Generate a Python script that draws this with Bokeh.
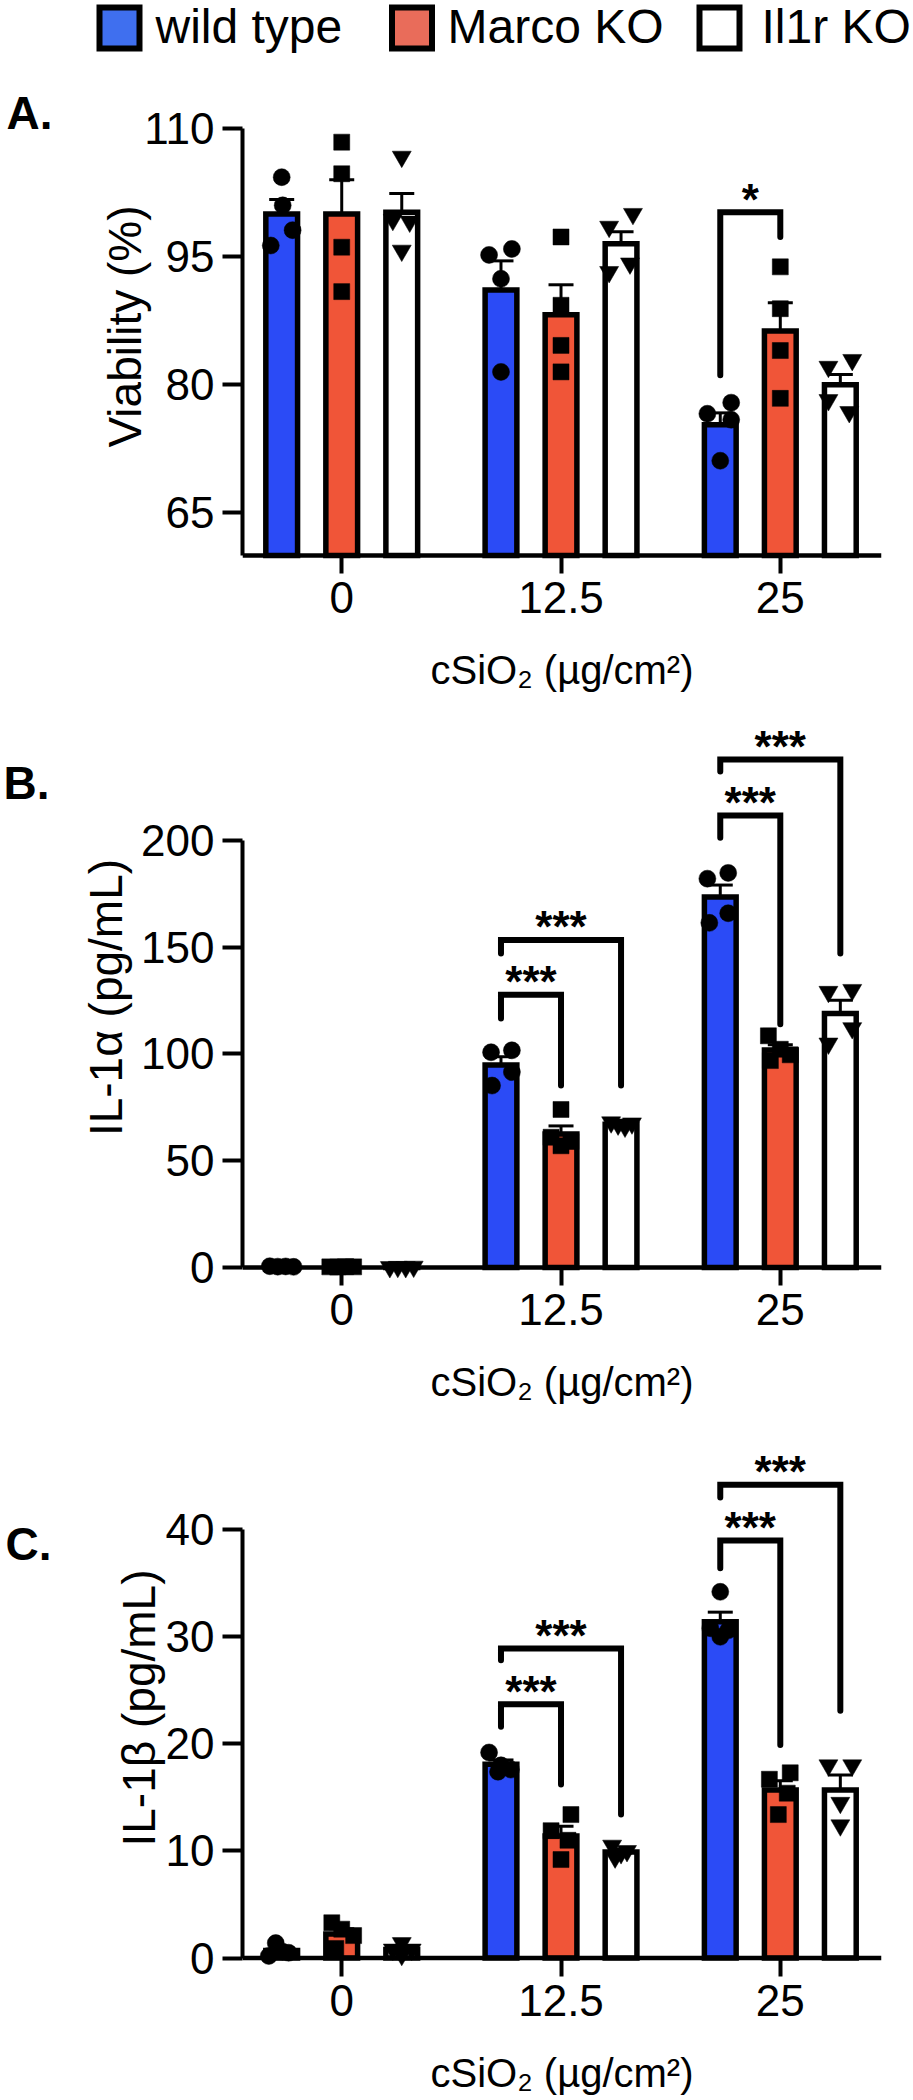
import numpy as np
from bokeh.plotting import figure
from bokeh.layouts import column
from bokeh.models import (ColumnDataSource, Range1d, FixedTicker, Whisker, TeeHead, Span,
                          LinearAxis)
from bokeh.core.properties import value
from bokeh.embed import file_html
from bokeh.resources import INLINE

# ---------------- data ----------------
doses = ["0", "12.5", "25"]
series = ["wild type", "Marco KO", "Il1r KO"]
bar_colors = ["#2B4BF6", "#F05538", "#FFFFFF"]
legend_colors = ["#3F6FEF", "#E96C5A", "#FFFFFF"]
markers = ["circle", "square", "inverted_triangle"]
x_title = "cSiO\u2082 (\u00b5g/cm\u00b2)"

# Panel A: viability (%)
via_mean = [[100.0, 91.1, 75.3], [100.0, 88.2, 86.3], [100.2, 96.5, 80.0]]
via_sem = [[1.7, 3.4, 1.4], [4.0, 3.5, 3.3], [2.2, 1.4, 1.2]]
via_pts = [
    [[104.3, 101.0, 98.1, 96.3], [95.2, 95.9, 92.4, 81.5], [76.6, 77.9, 75.9, 71.1]],
    [[108.4, 104.7, 96.1, 90.9], [97.3, 89.3, 84.6, 81.5], [93.8, 88.9, 84.0, 78.4]],
    [[106.7, 99.3, 99.1, 95.7], [98.5, 100.0, 93.2, 94.2], [82.1, 82.9, 78.2, 76.8]],
]
via_ticks = [65, 80, 95, 110]
via_br_group = [2]
via_br_to = [1]
via_br_y = [100.2]
via_br_left = [81.1]
via_br_right = [97.3]
via_br_text = ["*"]

# Panel B: IL-1 alpha (pg/mL)
il1a_mean = [[0.5, 94.8, 173.5], [0.3, 62.5, 101.8], [0.3, 67.1, 119.0]]
il1a_sem = [[0.1, 3.9, 5.6], [0.1, 3.8, 2.5], [0.1, 0.4, 6.2]]
il1a_pts = [
    [[0.6, 0.4, 0.5, 0.3], [100.8, 101.7, 91.5, 85.2], [182.1, 184.8, 165.9, 161.4]],
    [[0.3, 0.2, 0.4, 0.3], [74.0, 61.0, 59.0, 57.0], [108.5, 102.2, 99.6, 96.9]],
    [[0.2, 0.3, 0.2, 0.4], [68.0, 67.0, 66.0, 67.5], [129.1, 130.0, 112.1, 104.9]],
]
il1a_ticks = [0, 50, 100, 150, 200]
il1a_br_group = [1, 1, 2, 2]
il1a_br_to = [1, 2, 1, 2]
il1a_br_y = [127.7, 153.4, 211.7, 237.9]
il1a_br_left = [116.6, 147.0, 201.3, 232.3]
il1a_br_right = [85.2, 85.2, 113.9, 147.1]
il1a_br_text = ["***", "***", "***", "***"]

# Panel C: IL-1 beta (pg/mL)
il1b_mean = [[0.7, 18.1, 31.4], [2.25, 11.4, 15.7], [0.8, 9.9, 15.7]]
il1b_sem = [[0.3, 0.4, 0.9], [0.5, 0.9, 0.85], [0.25, 0.25, 1.4]]
il1b_pts = [
    [[0.2, 1.4, 0.5, 0.6], [19.2, 18.0, 17.6, 17.4], [34.2, 30.8, 30.6, 30.0]],
    [[3.3, 2.7, 2.1, 0.9], [13.4, 11.9, 11.0, 9.2], [16.7, 17.3, 15.4, 13.4]],
    [[1.4, 0.8, 0.8, 0.3], [10.5, 10.0, 9.8, 9.4], [18.0, 18.0, 14.5, 12.4]],
]
il1b_ticks = [0, 10, 20, 30, 40]
il1b_br_group = [1, 1, 2, 2]
il1b_br_to = [1, 2, 1, 2]
il1b_br_y = [23.7, 28.9, 39.0, 44.2]
il1b_br_left = [21.6, 27.8, 36.4, 43.0]
il1b_br_right = [16.2, 13.4, 19.9, 23.1]
il1b_br_text = ["***", "***", "***", "***"]

# ---------------- layout / style ----------------
FONT = "Liberation Sans"
W = 913
GROUP_PX = 221.0                      # pixels between dose groups
SER_OFF = [-60.5 / GROUP_PX, 0.0, 60.5 / GROUP_PX]
BAR_W = 32 / GROUP_PX
# horizontal scatter of the dots (pixels)
JIT = {
    "A": [[[0, 1, 11, -11], [-12, 11, 0, 0], [-13, 11, 11, 0]],
          [[0, 0, 0, 0], [0, 0, 0, 0], [0, 0, 0, 0]],
          [[0, -9, 8, 0], [-12, 12, -12, 9], [-12, 12, -12, 9]]],
    "B": [[[-12, -4, 4, 12], [-10, 11, 11, -9], [-13, 8, 8, -11]],
          [[-12, -4, 4, 12], [0, -10, 10, 0], [-12, 0, 10, -10]],
          [[-12, -4, 4, 12], [-10, -3, 4, 11], [-12, 12, 12, -12]]],
    "C": [[[-13, -6, 7, 1], [-12, 0, 10, -3], [0, -10, 8, 0]],
          [[-10, 0, 12, -6], [10, -10, 7, 0], [-11, 10, 7, -2]],
          [[0, -9, 10, 0], [-9, 6, 0, -6], [-12, 12, 0, 0]]],
}
MSIZE = [17, 16, 19]


def make_panel(key, letter, letter_y, letter_standoff, ylabel, ylabel_standoff,
               means, sems, pts, ticks, axis_lo, axis_hi,
               yr, height, mbt, mbb, brg, brt, bry, brl, brr, brtxt):
    p = figure(width=W, height=height, x_range=Range1d(-0.4525, 2.4615),
               y_range=Range1d(*yr), output_backend="svg", toolbar_location=None,
               title=None, min_border_left=237, min_border_right=32,
               min_border_top=mbt, min_border_bottom=mbb)
    p.outline_line_color = None
    p.grid.visible = False
    p.background_fill_color = "white"
    p.border_fill_color = "white"

    xa = p.xaxis[0]
    xa.ticker = FixedTicker(ticks=[0, 1, 2])
    xa.major_label_overrides = {0: doses[0], 1: doses[1], 2: doses[2]}
    xa.axis_line_color = None
    xa.major_tick_in = 12
    xa.major_tick_out = 6
    xa.major_tick_line_width = 4
    xa.minor_tick_line_color = None
    xa.major_label_text_font = FONT
    xa.major_label_text_font_size = "44px"
    xa.major_label_text_color = "black"
    xa.major_label_standoff = 8
    xa.axis_label = x_title
    xa.axis_label_text_font = FONT
    xa.axis_label_text_font_size = "40px"
    xa.axis_label_text_font_style = "normal"
    xa.axis_label_text_color = "black"
    xa.axis_label_standoff = 32

    ya = p.yaxis[0]
    ya.ticker = FixedTicker(ticks=ticks)
    ya.bounds = (axis_lo, axis_hi)
    ya.axis_line_width = 4
    ya.major_tick_line_width = 4
    ya.major_tick_out = 20
    ya.major_tick_in = 0
    ya.minor_tick_line_color = None
    ya.major_label_text_font = FONT
    ya.major_label_text_font_size = "44px"
    ya.major_label_text_color = "black"
    ya.major_label_standoff = 8
    ya.axis_label = ylabel
    ya.axis_label_text_font = FONT
    ya.axis_label_text_font_size = "46px"
    ya.axis_label_text_font_style = "normal"
    ya.axis_label_text_color = "black"
    ya.axis_label_standoff = ylabel_standoff

    # panel letter, drawn as the single label of an outer left axis
    la = LinearAxis(ticker=FixedTicker(ticks=[letter_y]),
                    major_label_overrides={letter_y: letter},
                    axis_line_color=None, major_tick_line_color=None,
                    minor_tick_line_color=None, major_tick_out=0, major_tick_in=0,
                    major_label_standoff=letter_standoff,
                    major_label_text_font=FONT, major_label_text_font_size="46px",
                    major_label_text_font_style="bold", major_label_text_color="black")
    p.add_layout(la, "left")

    # bars
    for i in range(3):
        xs = np.arange(3) + SER_OFF[i]
        p.vbar(x=xs, top=means[i], bottom=axis_lo, width=BAR_W,
               fill_color=bar_colors[i], line_color="black", line_width=5.5,
               line_join="miter")

    # baseline (x axis line)
    p.add_layout(Span(location=axis_lo, dimension="width", line_color="black",
                      line_width=4.5))

    # dots
    for i in range(3):
        xs, ys = [], []
        for g in range(3):
            for k, v in enumerate(pts[i][g]):
                xs.append(g + SER_OFF[i] + JIT[key][i][g][k] / GROUP_PX)
                ys.append(v)
        p.scatter(x=xs, y=ys, marker=markers[i], size=MSIZE[i],
                  fill_color="black", line_color="black", line_width=0.5)

    # SEM error bars
    for i in range(3):
        m = np.array(means[i])
        s = np.array(sems[i])
        src = ColumnDataSource(dict(x=np.arange(3) + SER_OFF[i], upper=m + s, lower=m - s))
        p.add_layout(Whisker(source=src, base="x", upper="upper", lower="lower",
                             dimension="height", line_color="black", line_width=3,
                             upper_head=TeeHead(size=25, line_width=3, line_color="black"),
                             lower_head=TeeHead(size=25, line_width=3, line_color="black")))

    # significance brackets
    bxs, bys, mx = [], [], []
    for g, t, y, l, r in zip(brg, brt, bry, brl, brr):
        x0 = g + SER_OFF[0]
        x1 = g + SER_OFF[t]
        bxs.append([x0, x0, x1, x1])
        bys.append([l, y, y, r])
        mx.append((x0 + x1) / 2)
    p.multi_line(xs=bxs, ys=bys, line_color="black", line_width=6,
                 line_cap="round", line_join="miter")
    p.text(x=mx, y=bry, text=brtxt, text_font=value(FONT), text_font_style="bold",
           text_font_size="44px", text_align="center", text_baseline="alphabetic",
           y_offset=-13, text_color="black")
    return p


# legend strip (its own frame covers the whole strip)
LEG_H = 62
leg = figure(width=W, height=LEG_H, x_range=Range1d(0, W), y_range=Range1d(0, LEG_H),
             x_axis_type=None, y_axis_type=None, output_backend="svg",
             toolbar_location=None, title=None, min_border=0, frame_align=False)
leg.min_border_left = leg.min_border_right = leg.min_border_top = leg.min_border_bottom = 0
leg.outline_line_color = None
leg.background_fill_color = "white"
leg.border_fill_color = "white"
leg.grid.visible = False
leg.rect(x=[119, 411.5, 719], y=LEG_H - 27.5, width=40, height=41,
         fill_color=legend_colors, line_color="black", line_width=6, line_join="miter")
leg.text(x=[155, 447, 761], y=[LEG_H - 26] * 3, text=series, text_font=value(FONT),
         text_font_size="48px", text_baseline="alphabetic", text_color="black")

pA = make_panel("A", "A.", 111.8, 44, "Viability (%)", -10, via_mean, via_sem, via_pts,
                via_ticks, 60, 110, (58.595, 115.035), 643, 23, 138,
                via_br_group, via_br_to, via_br_y, via_br_left, via_br_right, via_br_text)
pB = make_panel("B", "B.", 226.7, 28, "IL-1\u03b1 (pg/mL)", 6, il1a_mean, il1a_sem, il1a_pts,
                il1a_ticks, 0, 200, (-5.62, 258.5), 705, 10, 131,
                il1a_br_group, il1a_br_to, il1a_br_y, il1a_br_left, il1a_br_right, il1a_br_text)
pC = make_panel("C", "C.", 38.7, 58, "IL-1\u03b2 (pg/mL)", -2, il1b_mean, il1b_sem, il1b_pts,
                il1b_ticks, 0, 40, (-1.158, 47.86), 690, 35, 130,
                il1b_br_group, il1b_br_to, il1b_br_y, il1b_br_left, il1b_br_right, il1b_br_text)

page = column(leg, pA, pB, pC, spacing=0)
open("out.html", "w").write(file_html(page, INLINE))
